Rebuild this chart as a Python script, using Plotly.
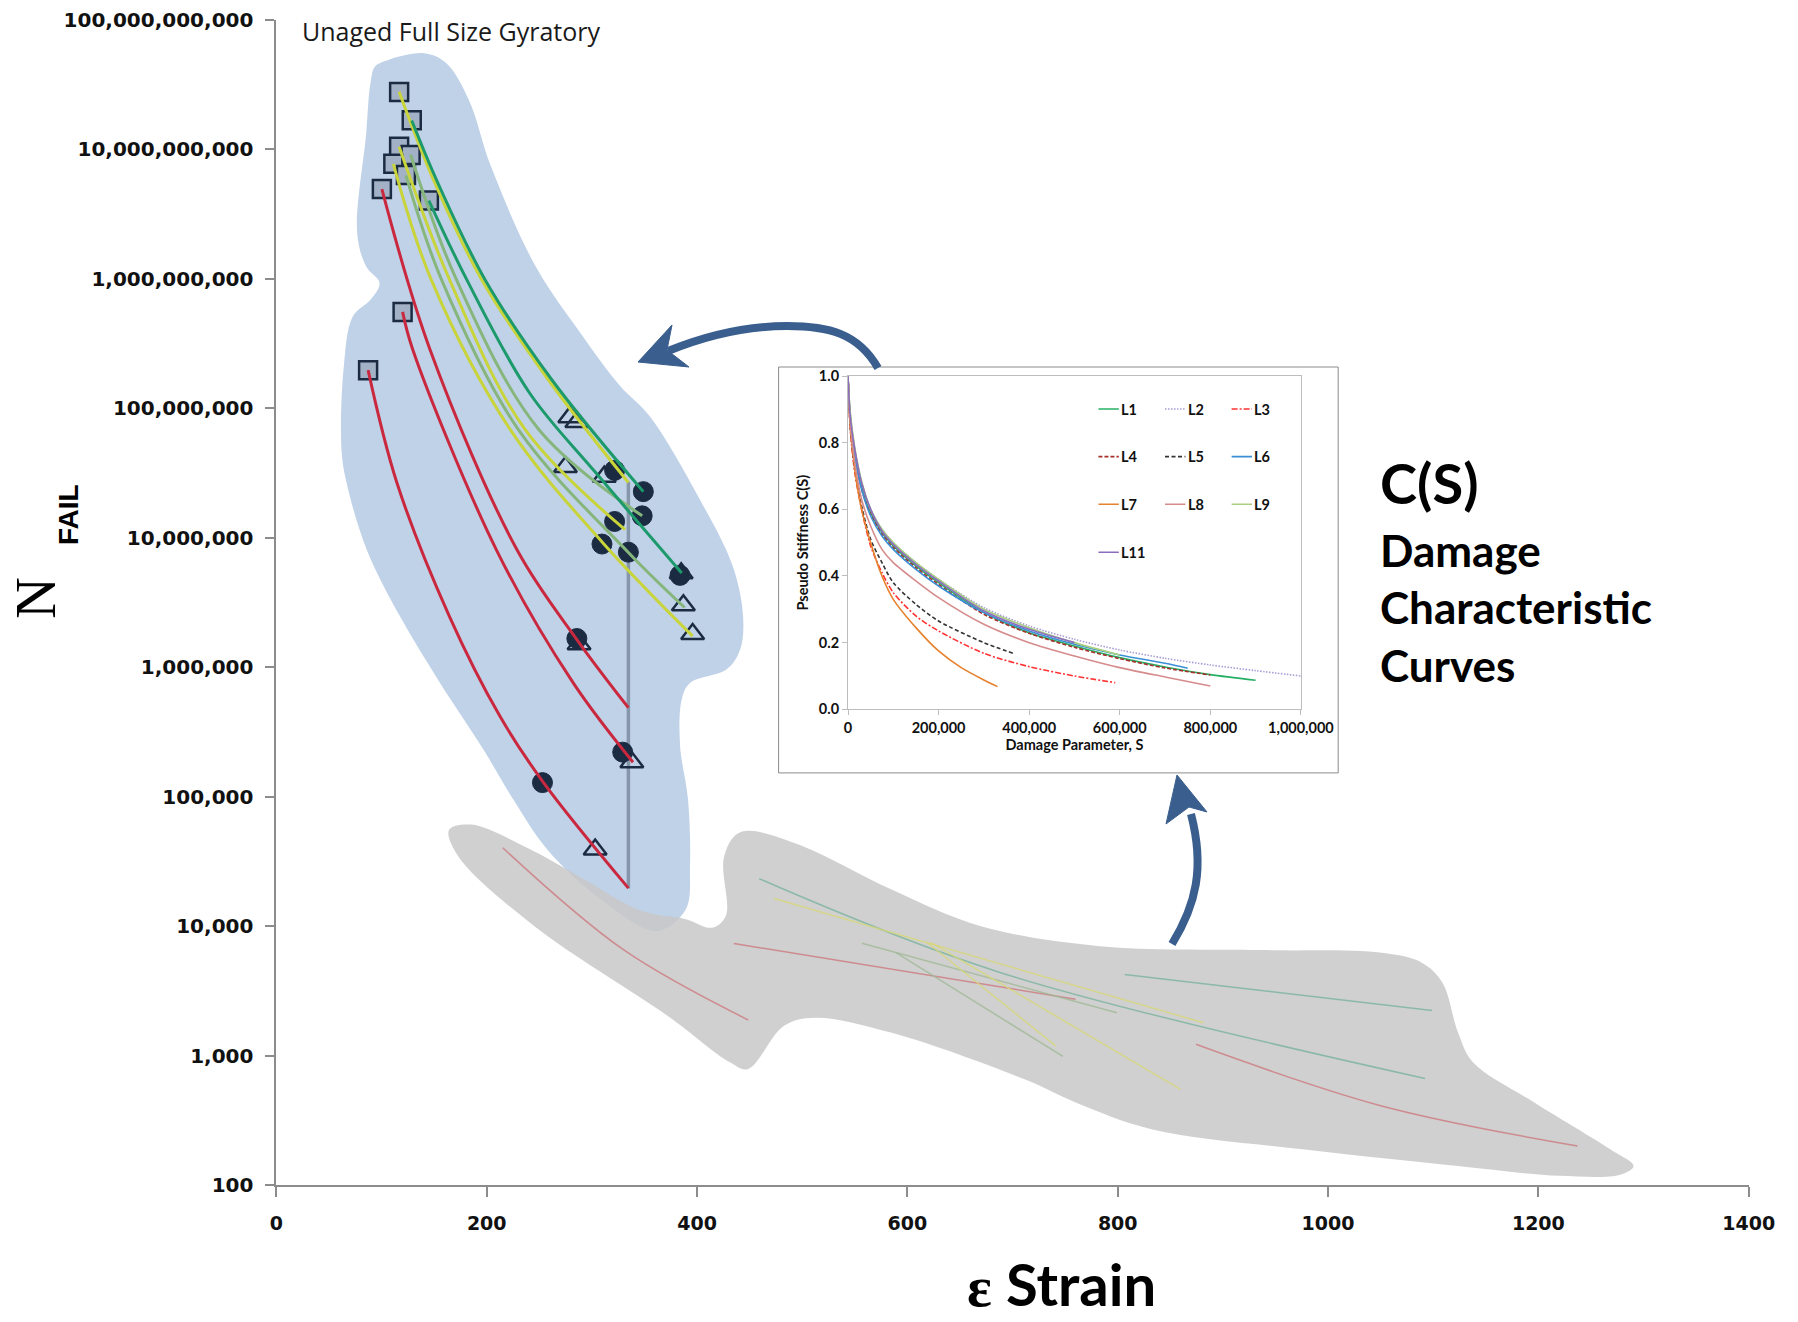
import plotly.graph_objects as go

W, H = 1798, 1322

# ---------------- fatigue results: strain (microstrain) vs cycles to failure ----------------
square_strain = [116.7, 128.7, 116.7, 127.6, 111.2, 123.2, 100.3, 145.0, 120.0, 87.2]
square_nf = [2.76e10, 1.67e10, 1.04e10, 9.0e9, 7.7e9, 6.3e9, 4.9e9, 4.0e9, 5.5e8, 1.96e8]
circle_strain = [321.6, 348.9, 347.8, 321.6, 309.6, 334.7, 383.8, 285.7, 329.3, 253.0]
circle_nf = [3.3e7, 2.26e7, 1.47e7, 1.33e7, 8.9e6, 7.7e6, 5.1e6, 1.66e6, 2.2e5, 1.28e5]
triangle_strain = [279.0, 285.7, 274.8, 311.8, 384.9, 387.0, 395.8, 287.8, 338.0, 303.1]
triangle_nf = [8.5e7, 7.8e7, 3.5e7, 2.95e7, 5.3e6, 3.0e6, 1.8e6, 1.5e6, 1.84e5, 3.9e4]

# predicted fatigue curves (unaged full size gyratory)
yel1_strain = [116.7, 149.4, 195.2, 258.4, 334.7]
yel1_nf = [2.77e10, 5.77e9, 9.8e8, 1.66e8, 2.66e7]
teal1_strain = [128.7, 153.7, 198.4, 261.7, 348.9]
teal1_nf = [1.66e10, 5.43e9, 9.8e8, 1.66e8, 2.26e7]
yel2_strain = [116.7, 164.6, 236.6, 331.5]
yel2_nf = [1.04e10, 9.8e8, 6.8e7, 1.15e7]
sage1_strain = [127.6, 171.2, 249.7, 347.8]
sage1_nf = [9.04e9, 9.8e8, 6.8e7, 1.47e7]
yel3_strain = [111.2, 147.2, 222.4, 310.7, 395.8]
yel3_nf = [7.67e9, 9.8e8, 6.8e7, 9.04e6, 1.73e6]
sage2_strain = [123.2, 157.0, 230.1, 334.7, 388.2]
sage2_nf = [6.25e9, 9.8e8, 6.8e7, 7.67e6, 2.88e6]
teal2_strain = [145.0, 181.0, 240.9, 304.2, 385.4]
teal2_nf = [4.0e9, 9.8e8, 1.30e8, 3.13e7, 5.32e6]
red1_strain = [87.2, 114.5, 164.6, 212.6, 254.0, 334.7]
red1_nf = [1.96e8, 2.66e7, 2.45e6, 4.16e5, 1.28e5, 1.96e4]
red2_strain = [120.0, 129.7, 209.3, 282.4, 339.1]
red2_nf = [5.53e8, 2.82e8, 8.0e6, 7.5e5, 1.84e5]
red3_strain = [100.3, 146.1, 228.9, 285.7, 334.7]
red3_nf = [4.9e9, 2.82e8, 8.0e6, 1.63e6, 4.85e5]

cut_strain = [334.7, 334.7]
cut_nf = [2.7e7, 1.95e4]

# other mixtures (faded curves in the grey band)
g1_strain = [215.2, 329.6, 448.7]
g1_nf = [4.02e4, 6.59e3, 1.88e3]
g2_strain = [435.0, 759.9]
g2_nf = [7.33e3, 2.72e3]
g3_strain = [459.0, 688.0, 1092.2]
g3_nf = [2.32e4, 4.38e3, 665]
g4_strain = [473.2, 881.6]
g4_nf = [1.63e4, 1.79e3]
g5_strain = [556.8, 799.2]
g5_nf = [7.36e3, 2.14e3]
g6_strain = [588.8, 747.9]
g6_nf = [6.25e3, 984]
g7_strain = [618.2, 741.4]
g7_nf = [7.52e3, 1.18e3]
g8_strain = [622.5, 859.8]
g8_nf = [7.45e3, 547]
g9_strain = [806.6, 1099.0]
g9_nf = [4.23e3, 2.23e3]
g10_strain = [874.4, 1051.0, 1237.2]
g10_nf = [1.22e3, 408, 200]

# outlines of the highlighted regions (strain, log10 N)
blue_region = [
    (140.6, 10.739), (161.4, 10.664), (183.0, 10.379), (204.1, 9.864), (246.6, 9.092),
    (289.2, 8.578), (327.1, 8.168), (355.2, 7.934), (402.8, 7.292), (433.9, 6.779),
    (443.8, 6.389), (440.9, 6.133), (428.2, 5.982), (393.3, 5.876), (385.4, 5.748),
    (383.8, 5.398), (391.4, 4.976), (393.3, 4.462), (389.2, 4.127), (361.7, 3.960),
    (308.6, 4.204), (257.3, 4.593), (225.3, 4.976), (196.8, 5.363), (155.6, 5.876),
    (117.5, 6.391), (85.9, 6.906), (66.8, 7.420), (61.9, 7.678), (64.1, 8.320),
    (72.6, 8.706), (89.4, 8.835), (98.1, 8.965), (85.4, 9.092), (76.8, 9.350),
    (85.4, 10.121), (89.4, 10.507), (93.8, 10.637), (106.4, 10.688),
]
grey_region = [
    (164.2, 4.743), (185.4, 4.783), (238.8, 4.602), (287.4, 4.385), (347.8, 4.115),
    (389.2, 4.053), (414.3, 3.987), (427.4, 4.080), (425.2, 4.513), (435.0, 4.690),
    (448.1, 4.735), (499.4, 4.619), (584.4, 4.283), (669.1, 4.000), (782.8, 3.844),
    (936.6, 3.814), (1051.1, 3.793), (1089.2, 3.717), (1108.8, 3.562), (1123.6, 3.177),
    (1137.8, 2.947), (1196.1, 2.637), (1268.7, 2.274), (1290.5, 2.147), (1278.5, 2.082),
    (1220.1, 2.071), (1123.6, 2.147), (978.0, 2.274), (833.0, 2.429), (760.0, 2.637),
    (712.0, 2.814), (584.4, 3.177), (512.2, 3.292), (482.7, 3.230), (448.1, 2.894),
    (431.3, 2.947), (372.5, 3.304), (245.0, 4.000), (172.7, 4.540),
]

y_tickvals = [1e2, 1e3, 1e4, 1e5, 1e6, 1e7, 1e8, 1e9, 1e10, 1e11]
y_ticktext = ["100", "1,000", "10,000", "100,000", "1,000,000", "10,000,000",
              "100,000,000", "1,000,000,000", "10,000,000,000", "100,000,000,000"]
x_tickvals = [0, 200, 400, 600, 800, 1000, 1200, 1400]

# ---------------- damage characteristic curves C(S) ----------------
s_L1 = [0, 5e3, 15e3, 30e3, 50e3, 75e3, 100e3, 150e3, 200e3, 300e3, 400e3, 500e3, 600e3, 700e3, 800e3, 900e3]
c_L1 = [1.0, 0.88, 0.77, 0.67, 0.59, 0.53, 0.49, 0.43, 0.38, 0.29, 0.23, 0.19, 0.155, 0.127, 0.104, 0.087]
s_L2 = [0, 5e3, 15e3, 30e3, 50e3, 75e3, 100e3, 150e3, 200e3, 300e3, 400e3, 500e3, 600e3, 700e3, 800e3, 900e3, 1000e3]
c_L2 = [1.0, 0.89, 0.78, 0.68, 0.6, 0.54, 0.5, 0.44, 0.39, 0.305, 0.25, 0.21, 0.178, 0.153, 0.133, 0.116, 0.1]
s_L3 = [0, 5e3, 15e3, 30e3, 50e3, 75e3, 100e3, 150e3, 200e3, 300e3, 400e3, 500e3, 590e3]
c_L3 = [1.0, 0.84, 0.71, 0.6, 0.49, 0.41, 0.35, 0.28, 0.235, 0.168, 0.128, 0.1, 0.08]
s_L4 = [0, 5e3, 15e3, 30e3, 50e3, 75e3, 100e3, 150e3, 200e3, 300e3, 400e3, 500e3, 600e3, 700e3, 800e3]
c_L4 = [1.0, 0.87, 0.76, 0.66, 0.585, 0.525, 0.485, 0.425, 0.375, 0.285, 0.228, 0.186, 0.152, 0.124, 0.103]
s_L5 = [0, 5e3, 15e3, 30e3, 50e3, 75e3, 100e3, 150e3, 200e3, 300e3, 365e3]
c_L5 = [1.0, 0.85, 0.72, 0.61, 0.51, 0.44, 0.38, 0.315, 0.265, 0.2, 0.168]
s_L6 = [0, 5e3, 15e3, 30e3, 50e3, 75e3, 100e3, 150e3, 200e3, 300e3, 400e3, 500e3, 600e3, 700e3, 750e3]
c_L6 = [1.0, 0.87, 0.76, 0.66, 0.58, 0.52, 0.48, 0.42, 0.37, 0.29, 0.235, 0.195, 0.163, 0.138, 0.123]
s_L7 = [0, 5e3, 15e3, 30e3, 50e3, 75e3, 100e3, 150e3, 200e3, 250e3, 300e3, 330e3]
c_L7 = [1.0, 0.85, 0.72, 0.6, 0.5, 0.4, 0.33, 0.245, 0.175, 0.125, 0.088, 0.068]
s_L8 = [0, 5e3, 15e3, 30e3, 50e3, 75e3, 100e3, 150e3, 200e3, 300e3, 400e3, 500e3, 600e3, 700e3, 800e3]
c_L8 = [1.0, 0.86, 0.74, 0.63, 0.55, 0.48, 0.44, 0.385, 0.335, 0.255, 0.2, 0.16, 0.125, 0.097, 0.07]
s_L9 = [0, 5e3, 15e3, 30e3, 50e3, 75e3, 100e3, 150e3, 200e3, 300e3, 400e3, 500e3, 600e3]
c_L9 = [1.0, 0.89, 0.785, 0.685, 0.6, 0.54, 0.5, 0.44, 0.39, 0.3, 0.245, 0.2, 0.163]
s_L11 = [0, 5e3, 15e3, 30e3, 50e3, 75e3, 100e3, 150e3, 200e3, 300e3, 400e3, 500e3]
c_L11 = [1.0, 0.88, 0.78, 0.68, 0.6, 0.535, 0.495, 0.435, 0.385, 0.295, 0.24, 0.2]

cs_names = ["L1", "L2", "L3", "L4", "L5", "L6", "L7", "L8", "L9", "L11"]

# ---------------- styling ----------------
RED = "#c9283e"
YEL = "#c8d43a"
SAGE = "#86b67c"
TEAL = "#1c9a6c"
NAVY = "#1b2b42"
ARROW = "#3a5f8e"

cs_styles = {
    "L1": dict(color="#27b064", dash="solid"),
    "L2": dict(color="#a99cd6", dash="1.5px,1.5px"),
    "L3": dict(color="#ff3333", dash="6px,2px,2px,2px"),
    "L4": dict(color="#a5302c", dash="4px,2px"),
    "L5": dict(color="#333333", dash="4px,2.5px"),
    "L6": dict(color="#3a8fd6", dash="solid"),
    "L7": dict(color="#e6822e", dash="solid"),
    "L8": dict(color="#d68c8c", dash="solid"),
    "L9": dict(color="#a9cf80", dash="solid"),
    "L11": dict(color="#8c6cbf", dash="solid"),
}


def paper_x(px):
    return px / W


def paper_y(py):
    return 1 - py / H


fig = go.Figure()

# highlighted regions
for outline, fill in [(blue_region, "#c0d2e8"), (grey_region, "rgba(200,200,200,0.85)")]:
    pts = outline + [outline[0]]
    fig.add_trace(go.Scatter(
        x=[p[0] for p in pts], y=[10 ** p[1] for p in pts],
        mode="lines", fill="toself", fillcolor=fill,
        line=dict(width=0, shape="spline", smoothing=1.0, color=fill),
        hoverinfo="skip", showlegend=False))

# faded curves of the other mixtures
faded = [
    (g1_strain, g1_nf, "rgba(205,110,115,0.7)"),
    (g2_strain, g2_nf, "rgba(205,110,115,0.7)"),
    (g3_strain, g3_nf, "rgba(110,175,150,0.7)"),
    (g4_strain, g4_nf, "rgba(215,215,120,0.8)"),
    (g5_strain, g5_nf, "rgba(160,185,150,0.8)"),
    (g6_strain, g6_nf, "rgba(160,185,150,0.8)"),
    (g7_strain, g7_nf, "rgba(215,215,120,0.8)"),
    (g8_strain, g8_nf, "rgba(215,215,120,0.8)"),
    (g9_strain, g9_nf, "rgba(110,175,150,0.7)"),
    (g10_strain, g10_nf, "rgba(205,110,115,0.7)"),
]
for xs, ys, col in faded:
    fig.add_trace(go.Scatter(x=xs, y=ys, mode="lines",
                             line=dict(color=col, width=1.5, shape="spline"),
                             hoverinfo="skip", showlegend=False))

# vertical strain cut-off
fig.add_trace(go.Scatter(x=cut_strain, y=cut_nf, mode="lines",
                         line=dict(color="#8797ab", width=3.5),
                         hoverinfo="skip", showlegend=False))

# test points
fig.add_trace(go.Scatter(x=square_strain, y=square_nf, mode="markers",
                         marker=dict(symbol="square", size=18, color="#a3b1c6",
                                     line=dict(color=NAVY, width=2.5)),
                         showlegend=False))
fig.add_trace(go.Scatter(x=circle_strain, y=circle_nf, mode="markers",
                         marker=dict(symbol="circle", size=20, color=NAVY,
                                     line=dict(color=NAVY, width=1)),
                         showlegend=False))
fig.add_trace(go.Scatter(x=triangle_strain, y=triangle_nf, mode="markers",
                         marker=dict(symbol="triangle-up-open", size=20, color=NAVY,
                                     line=dict(color=NAVY, width=2.5)),
                         showlegend=False))

# fatigue curves
curves = [
    (red1_strain, red1_nf, RED), (red2_strain, red2_nf, RED), (red3_strain, red3_nf, RED),
    (yel3_strain, yel3_nf, YEL), (sage2_strain, sage2_nf, SAGE), (yel2_strain, yel2_nf, YEL),
    (sage1_strain, sage1_nf, SAGE), (teal2_strain, teal2_nf, TEAL),
    (yel1_strain, yel1_nf, YEL), (teal1_strain, teal1_nf, TEAL),
]
for xs, ys, col in curves:
    fig.add_trace(go.Scatter(x=xs, y=ys, mode="lines",
                             line=dict(color=col, width=3, shape="spline", smoothing=1.0),
                             hoverinfo="skip", showlegend=False))

# inset: damage characteristic curves
cs_data = {
    "L1": (s_L1, c_L1), "L2": (s_L2, c_L2), "L3": (s_L3, c_L3), "L4": (s_L4, c_L4),
    "L5": (s_L5, c_L5), "L6": (s_L6, c_L6), "L7": (s_L7, c_L7), "L8": (s_L8, c_L8),
    "L9": (s_L9, c_L9), "L11": (s_L11, c_L11),
}
for name in cs_names:
    s, c = cs_data[name]
    st = cs_styles[name]
    fig.add_trace(go.Scatter(x=s, y=c, mode="lines", xaxis="x2", yaxis="y2",
                             line=dict(color=st["color"], dash=st["dash"], width=1.6,
                                       shape="spline", smoothing=0.8),
                             name=name, showlegend=False))

# ---------------- axes ----------------
x0p, x1p = 276.4, 1748.7
ytop, ybot = 19.5, 1185.0
inset_l, inset_r, inset_t, inset_b = 848.0, 1300.9, 376.0, 709.3

inset_font = dict(family="Lato", size=14.5, color="#111111", weight="bold")

fig.update_layout(
    width=W, height=H,
    margin=dict(l=0, r=0, t=0, b=0, autoexpand=False),
    paper_bgcolor="white", plot_bgcolor="white",
    showlegend=False, hovermode=False,
    xaxis=dict(domain=[paper_x(x0p), paper_x(x1p)], range=[0, 1400], automargin=False,
               tickvals=x_tickvals, showgrid=False, zeroline=False,
               showline=True, linecolor="#8c8c8c", linewidth=2,
               ticks="outside", ticklen=10, tickwidth=2, tickcolor="#8c8c8c",
               tickfont=dict(family="DejaVu Sans", size=19, color="#111111", weight="bold"),
               ticklabelstandoff=10, anchor="y"),
    yaxis=dict(domain=[paper_y(ybot), paper_y(ytop)], type="log", range=[2, 11], automargin=False,
               tickvals=y_tickvals, ticktext=y_ticktext, showgrid=False, zeroline=False,
               showline=True, linecolor="#8c8c8c", linewidth=2,
               ticks="outside", ticklen=9, tickwidth=2, tickcolor="#8c8c8c",
               tickfont=dict(family="DejaVu Sans", size=20, color="#111111", weight="bold"),
               ticklabelstandoff=8, anchor="x"),
    xaxis2=dict(domain=[paper_x(inset_l), paper_x(inset_r)], range=[0, 1e6], automargin=False,
                dtick=200000, tickformat=",d", showgrid=False, zeroline=False,
                showline=True, mirror=True, linecolor="#bdbdbd", linewidth=1,
                ticks="outside", ticklen=5, tickcolor="#bdbdbd",
                tickfont=inset_font,
                title=dict(text="Damage Parameter, S", standoff=4, font=inset_font),
                anchor="y2"),
    yaxis2=dict(domain=[paper_y(inset_b), paper_y(inset_t)], range=[0, 1.0], automargin=False,
                dtick=0.2, tickformat=".1f", showgrid=False, zeroline=False,
                showline=True, mirror=True, linecolor="#bdbdbd", linewidth=1,
                ticks="outside", ticklen=5, tickcolor="#bdbdbd",
                tickfont=inset_font,
                title=dict(text="Pseudo Stiffness C(S)", standoff=6, font=inset_font),
                anchor="x2"),
)

shapes = []
# inset frame
shapes.append(dict(type="rect", xref="paper", yref="paper",
                   x0=paper_x(778.6), x1=paper_x(1338.2), y0=paper_y(772.9), y1=paper_y(367.0),
                   fillcolor="white", line=dict(color="#8c8c8c", width=1), layer="below"))


def pth(points_cmds):
    out = []
    for cmd, pts in points_cmds:
        coords = " ".join(f"{paper_x(x):.5f},{paper_y(y):.5f}" for x, y in pts)
        out.append(f"{cmd} {coords}".strip())
    return " ".join(out)


# arrow from the inset toward the fatigue curves
shapes.append(dict(type="path", xref="paper", yref="paper",
                   path=pth([("M", [(878, 368)]), ("C", [(858, 333), (828, 326), (787, 326)]),
                             ("C", [(748, 326), (705, 336), (668, 351)])]),
                   line=dict(color=ARROW, width=8), fillcolor="rgba(0,0,0,0)"))
shapes.append(dict(type="path", xref="paper", yref="paper",
                   path=pth([("M", [(638, 362)]), ("L", [(672, 325)]), ("L", [(667, 350)]),
                             ("L", [(689, 367)]), ("Z", [])]),
                   line=dict(color=ARROW, width=1), fillcolor=ARROW))
# arrow from the grey band up to the inset
shapes.append(dict(type="path", xref="paper", yref="paper",
                   path=pth([("M", [(1172, 944)]), ("C", [(1196, 905), (1205, 868), (1191, 814)])]),
                   line=dict(color=ARROW, width=8), fillcolor="rgba(0,0,0,0)"))
shapes.append(dict(type="path", xref="paper", yref="paper",
                   path=pth([("M", [(1177, 775)]), ("L", [(1207, 812)]), ("L", [(1189, 807)]),
                             ("L", [(1166, 824)]), ("Z", [])]),
                   line=dict(color=ARROW, width=1), fillcolor=ARROW))

# inset legend
leg_cols_x = [553e3, 700e3, 847e3]
leg_rows_y = [0.901, 0.758, 0.615, 0.471]
annotations = []
for i, name in enumerate(cs_names):
    r, c = divmod(i, 3)
    st = cs_styles[name]
    xa = leg_cols_x[c]
    ya = leg_rows_y[r]
    shapes.append(dict(type="line", xref="x2", yref="y2", x0=xa, x1=xa + 45e3, y0=ya, y1=ya,
                       line=dict(color=st["color"], dash=st["dash"], width=1.6)))
    annotations.append(dict(xref="x2", yref="y2", x=xa + 46e3, y=ya, text=name,
                            showarrow=False, xanchor="left", yanchor="middle",
                            font=inset_font))

# titles and labels
annotations += [
    dict(xref="paper", yref="paper", x=paper_x(300), y=paper_y(31), text="Unaged Full Size Gyratory",
         showarrow=False, xanchor="left", yanchor="middle",
         font=dict(family="Open Sans", size=25, color="#1a1a1a")),
    dict(xref="paper", yref="paper", x=paper_x(1061), y=paper_y(1284),
         text="<span style='font-family:Liberation Serif'>ε</span> Strain",
         showarrow=False, xanchor="center", yanchor="middle",
         font=dict(family="Lato", size=58, color="#000000", weight="bold")),
    dict(xref="paper", yref="paper", x=paper_x(35), y=paper_y(598), text="N",
         showarrow=False, xanchor="center", yanchor="middle", textangle=-90,
         font=dict(family="Liberation Serif", size=58, color="#000000")),
    dict(xref="paper", yref="paper", x=paper_x(68), y=paper_y(515), text="FAIL",
         showarrow=False, xanchor="center", yanchor="middle", textangle=-90,
         font=dict(family="Liberation Sans", size=28, color="#000000", weight="bold")),
    dict(xref="paper", yref="paper", x=paper_x(1378), y=paper_y(482), text="C(S)",
         showarrow=False, xanchor="left", yanchor="middle",
         font=dict(family="Lato", size=56, color="#000000", weight="bold")),
    dict(xref="paper", yref="paper", x=paper_x(1378), y=paper_y(550), text="Damage",
         showarrow=False, xanchor="left", yanchor="middle",
         font=dict(family="Lato", size=44, color="#000000", weight="bold")),
    dict(xref="paper", yref="paper", x=paper_x(1378), y=paper_y(607), text="Characteristic",
         showarrow=False, xanchor="left", yanchor="middle",
         font=dict(family="Lato", size=44, color="#000000", weight="bold")),
    dict(xref="paper", yref="paper", x=paper_x(1378), y=paper_y(665), text="Curves",
         showarrow=False, xanchor="left", yanchor="middle",
         font=dict(family="Lato", size=44, color="#000000", weight="bold")),
]

fig.update_layout(shapes=shapes, annotations=annotations)

fig.write_html("out.html")
